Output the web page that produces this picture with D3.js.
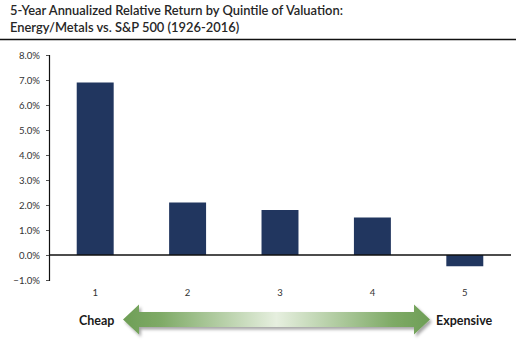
<!DOCTYPE html>
<html>
<head>
<meta charset="utf-8">
<script src="https://cdn.jsdelivr.net/npm/d3@7"></script>
<style>
  html, body { margin: 0; padding: 0; background: #fff; }
  svg { display: block; }
  text { font-family: Lato, "Open Sans", sans-serif; }
</style>
</head>
<body>
<div id="chart"></div>
<script>
// Quintiles of valuation and the 5-year annualized relative return (%) for each
const quintiles = ["1", "2", "3", "4", "5"];
const relativeReturn = [6.9, 2.1, 1.8, 1.5, -0.45];
const yTicks = [-1, 0, 1, 2, 3, 4, 5, 6, 7, 8];
const titleLines = [
  "5-Year Annualized Relative Return by Quintile of Valuation:",
  "Energy/Metals vs. S&P 500 (1926-2016)"
];
const scaleEnds = ["Cheap", "Expensive"];

const width = 526, height = 350;
const svg = d3.select("#chart").append("svg")
  .attr("width", width).attr("height", height);

// Title block with a rule underneath
svg.selectAll("text.title").data(titleLines).join("text")
  .attr("class", "title")
  .attr("x", 10)
  .attr("y", (d, i) => 15 + i * 16.5)
  .attr("font-size", 12.9)
  .attr("font-weight", 600)
  .attr("fill", "#262626")
  .text(d => d);

svg.append("line")
  .attr("x1", 0).attr("x2", 516)
  .attr("y1", 39.5).attr("y2", 39.5)
  .attr("stroke", "#111").attr("stroke-width", 1.3);

// Scales
const plotLeft = 49, plotRight = 511;
const x = d3.scaleBand()
  .domain(quintiles)
  .range([plotLeft, plotRight])
  .paddingInner(0.6)
  .paddingOuter(0.3);

const y = d3.scaleLinear()
  .domain([-1, 8])
  .range([280, 55]);

// Bars
svg.append("g").selectAll("rect").data(quintiles).join("rect")
  .attr("x", d => x(d))
  .attr("width", x.bandwidth())
  .attr("y", (d, i) => y(Math.max(0, relativeReturn[i])))
  .attr("height", (d, i) => Math.abs(y(relativeReturn[i]) - y(0)))
  .attr("fill", "#21365f");

// Y axis
const yAxis = d3.axisLeft(y)
  .tickValues(yTicks)
  .tickSize(3)
  .tickPadding(6)
  .tickFormat(d => d3.format(".1f")(d) + "%");

const gy = svg.append("g")
  .attr("transform", `translate(${plotLeft},0)`)
  .call(yAxis);
gy.select(".domain").attr("stroke", "#111").attr("stroke-width", 1.2);
gy.selectAll(".tick line").attr("stroke", "#555");
gy.selectAll(".tick text")
  .attr("font-size", 9.6)
  .attr("fill", "#333")
  .attr("font-family", "Lato, sans-serif");

// Zero baseline
svg.append("line")
  .attr("x1", plotLeft).attr("x2", plotRight)
  .attr("y1", y(0)).attr("y2", y(0))
  .attr("stroke", "#111").attr("stroke-width", 1.3);

// Quintile labels
svg.append("g").selectAll("text").data(quintiles).join("text")
  .attr("x", d => x(d) + x.bandwidth() / 2)
  .attr("y", 296)
  .attr("text-anchor", "middle")
  .attr("font-size", 9.5)
  .attr("fill", "#333")
  .text(d => d);

// Cheap <-> Expensive double arrow
const defs = svg.append("defs");
const grad = defs.append("linearGradient")
  .attr("id", "arrowGrad")
  .attr("x1", "0%").attr("x2", "100%").attr("y1", "0%").attr("y2", "0%");
[[0, "#6e9e56"], [0.12, "#7eaa66"], [0.5, "#e6efdf"], [0.88, "#7eaa66"], [1, "#6e9e56"]]
  .forEach(([o, c]) => grad.append("stop").attr("offset", o).attr("stop-color", c));

const shadow = defs.append("filter").attr("id", "arrowShadow")
  .attr("x", "-10%").attr("y", "-50%").attr("width", "120%").attr("height", "200%");
shadow.append("feDropShadow")
  .attr("dx", 2).attr("dy", 2.5).attr("stdDeviation", 1.8)
  .attr("flood-color", "#000").attr("flood-opacity", 0.35);

const ax0 = 123, ax1 = 430, ay = 319.5, head = 16, halfHead = 15, halfShaft = 7.5;
const arrowPts = [
  [ax0, ay],
  [ax0 + head, ay - halfHead],
  [ax0 + head, ay - halfShaft],
  [ax1 - head, ay - halfShaft],
  [ax1 - head, ay - halfHead],
  [ax1, ay],
  [ax1 - head, ay + halfHead],
  [ax1 - head, ay + halfShaft],
  [ax0 + head, ay + halfShaft],
  [ax0 + head, ay + halfHead]
];
svg.append("path")
  .attr("d", d3.line()(arrowPts) + "Z")
  .attr("fill", "url(#arrowGrad)")
  .attr("filter", "url(#arrowShadow)");

svg.append("text")
  .attr("x", 79).attr("y", 324.5)
  .attr("font-size", 12.5).attr("font-weight", 700).attr("fill", "#1a1a1a")
  .text(scaleEnds[0]);
svg.append("text")
  .attr("x", 436).attr("y", 324.5)
  .attr("font-size", 12.5).attr("font-weight", 700).attr("fill", "#1a1a1a")
  .text(scaleEnds[1]);
</script>
</body>
</html>
